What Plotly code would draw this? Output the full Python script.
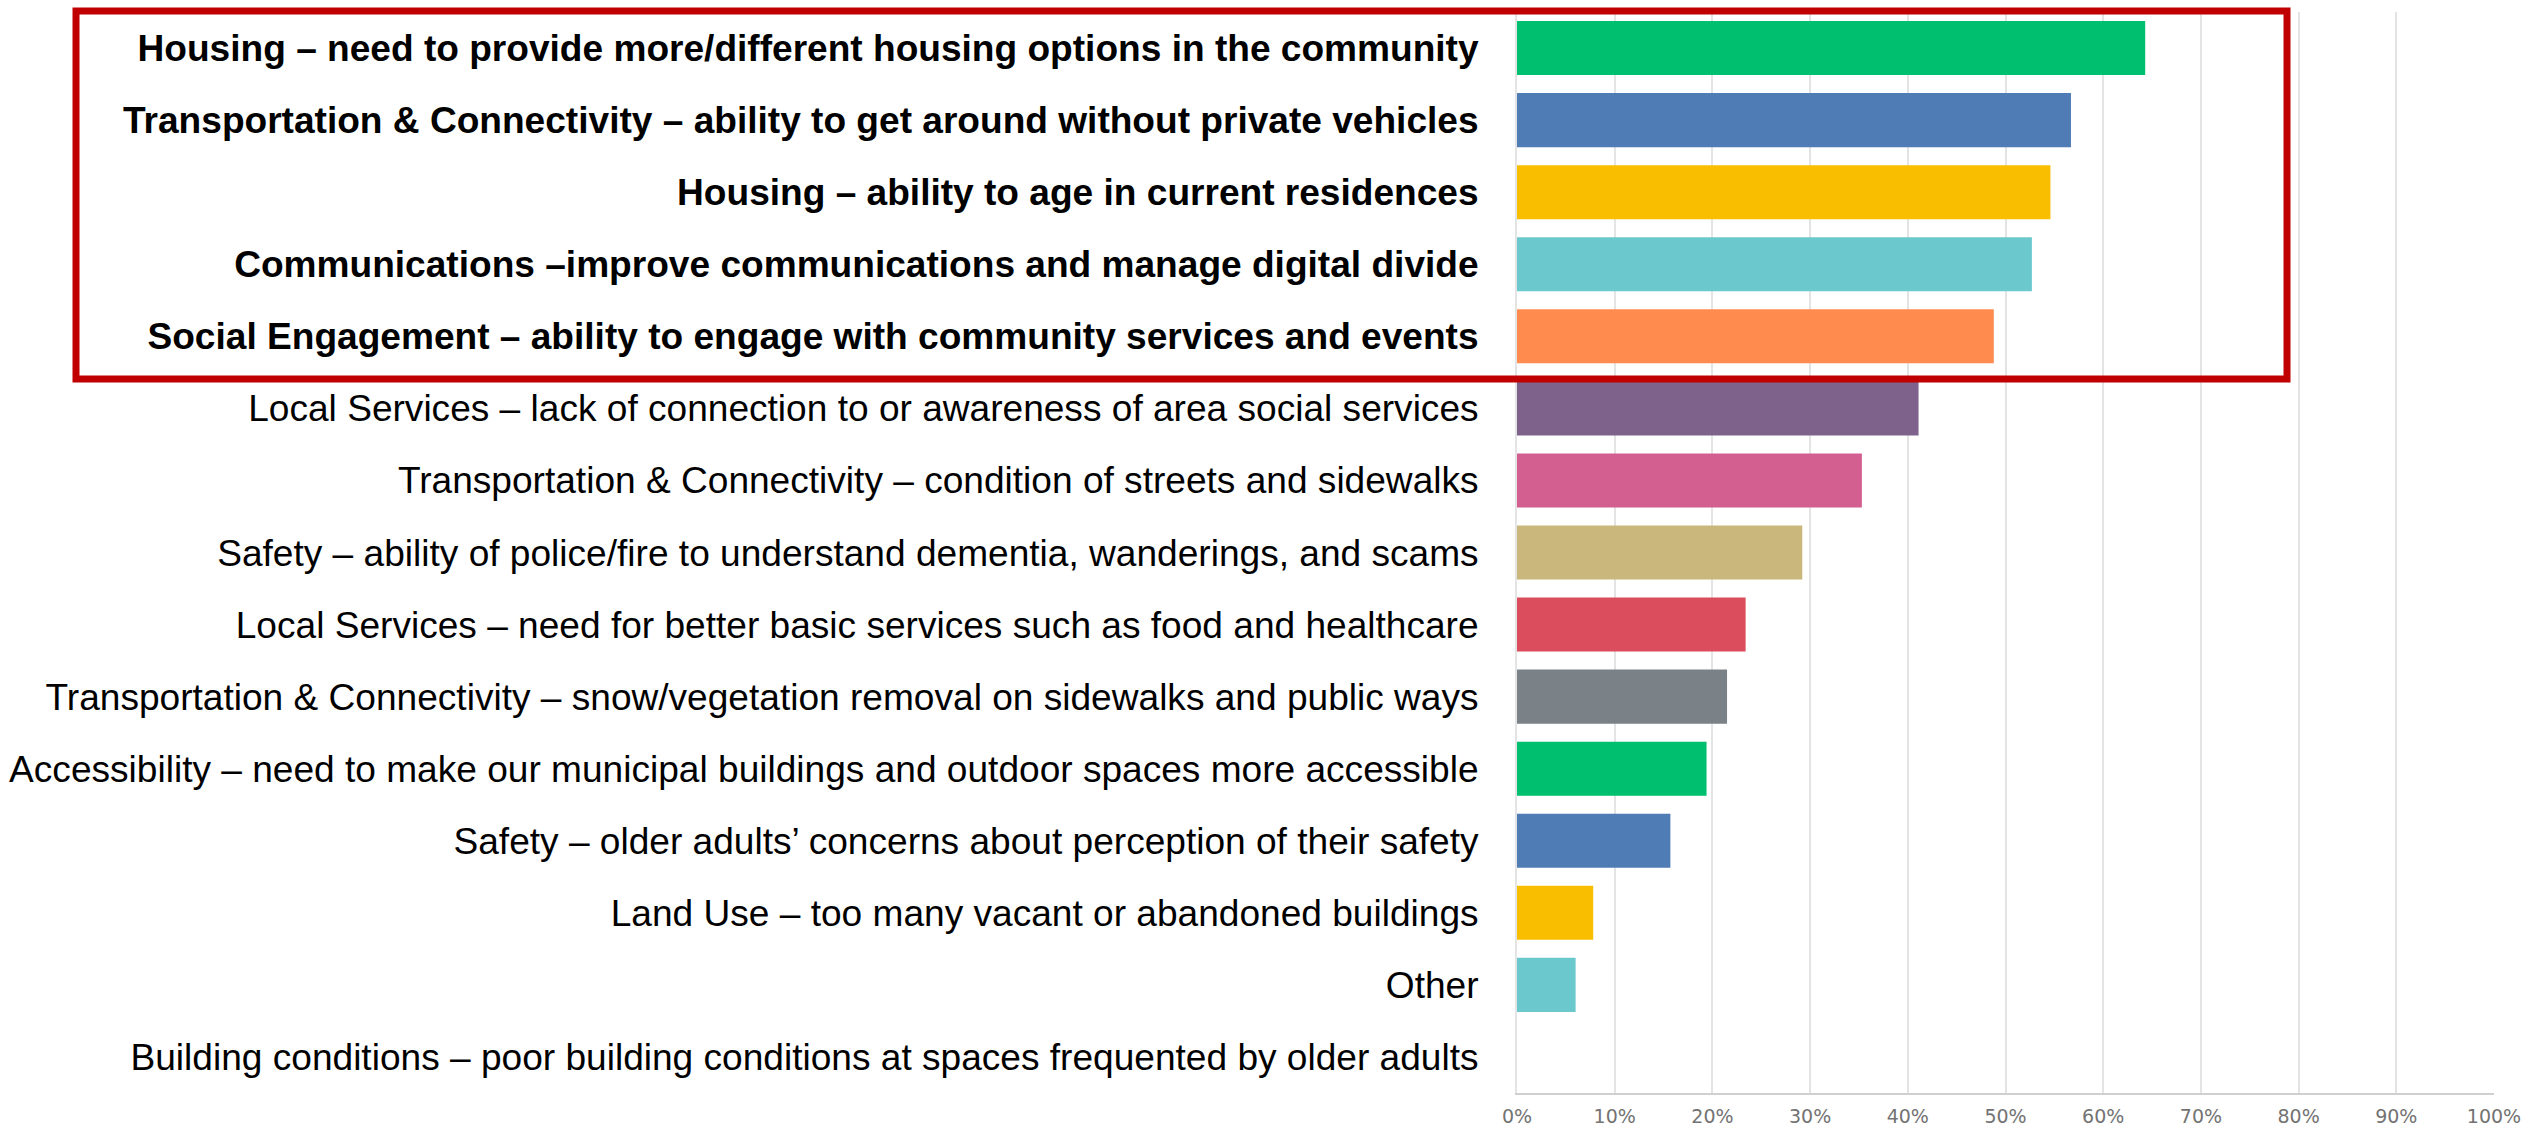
import plotly.graph_objects as go

categories = [
    "Housing – need to provide more/different housing options in the community",
    "Transportation & Connectivity – ability to get around without private vehicles",
    "Housing – ability to age in current residences",
    "Communications –improve communications and manage digital divide",
    "Social Engagement – ability to engage with community services and events",
    "Local Services – lack of connection to or awareness of area social services",
    "Transportation & Connectivity – condition of streets and sidewalks",
    "Safety – ability of police/fire to understand dementia, wanderings, and scams",
    "Local Services – need for better basic services such as food and healthcare",
    "Transportation & Connectivity – snow/vegetation removal on sidewalks and public ways",
    "Accessibility – need to make our municipal buildings and outdoor spaces more accessible",
    "Safety – older adults’ concerns about perception of their safety",
    "Land Use – too many vacant or abandoned buildings",
    "Other",
    "Building conditions – poor building conditions at spaces frequented by older adults",
]
values = [64.3, 56.7, 54.6, 52.7, 48.8, 41.1, 35.3, 29.2, 23.4, 21.5, 19.4, 15.7, 7.8, 6.0, 0.0]
highlighted = [True, True, True, True, True] + [False] * 10
colors = ["#00BF6F", "#507CB6", "#F9BE00", "#6BC8CD", "#FF8B4F", "#7F628B", "#D25F90",
          "#C9B77C", "#DB4D5C", "#7A8288", "#00BF6F", "#507CB6", "#F9BE00", "#6BC8CD", "#FF8B4F"]
x_ticks = [0, 10, 20, 30, 40, 50, 60, 70, 80, 90, 100]
x_tick_labels = [f"{t}%" for t in x_ticks]

tick_text = [f"<b>{c}</b>" if h else c for c, h in zip(categories, highlighted)]

W, H = 2526, 1126
L, R, T, B = 1517, 32, 12, 33

fig = go.Figure(go.Bar(
    x=values, y=categories, orientation="h",
    marker=dict(color=colors, line=dict(width=0)),
))

fig.update_layout(
    width=W, height=H,
    margin=dict(l=L, r=R, t=T, b=B, autoexpand=False),
    paper_bgcolor="white", plot_bgcolor="white",
    bargap=0.25, showlegend=False,
    font=dict(family="Liberation Sans, Arial, sans-serif", color="#000000"),
)
fig.update_xaxes(
    range=[0, 100], tickvals=x_ticks, ticktext=x_tick_labels,
    showgrid=True, gridcolor="#e4e4e4", gridwidth=2,
    zeroline=False, showline=True, linecolor="#d0d0d0", linewidth=2,
    ticks="", tickfont=dict(family="DejaVu Sans, sans-serif", size=19, color="#737373"),
    ticklabelstandoff=5, automargin=False, fixedrange=True,
)
fig.update_yaxes(
    categoryorder="array", categoryarray=categories,
    tickvals=categories, ticktext=tick_text,
    autorange="reversed", showgrid=False, zeroline=False,
    showline=True, linecolor="#e4e4e4", linewidth=2,
    ticks="", ticklabelstandoff=29, automargin=False,
    tickfont=dict(family="Liberation Sans, Arial, sans-serif", size=37.1, color="#000000"),
)

pw = W - L - R
ph = H - T - B
def px_x(p):
    return (p - L) / pw
def px_y(p):
    return (H - B - p) / ph

fig.add_shape(
    type="rect", xref="paper", yref="paper",
    x0=px_x(76), x1=px_x(2287), y0=px_y(379), y1=px_y(11),
    line=dict(color="#C00000", width=7), fillcolor="rgba(0,0,0,0)", layer="above",
)

fig.write_html(
    "out.html",
    config={"displayModeBar": False, "staticPlot": True},
    post_script="document.body.style.margin='0px';document.body.style.overflow='hidden';",
)
